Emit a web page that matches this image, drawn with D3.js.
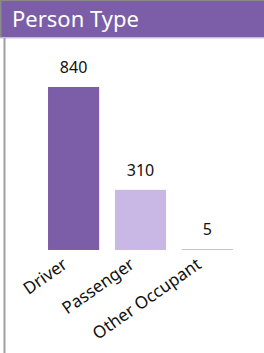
<!DOCTYPE html>
<html>
<head>
<meta charset="utf-8">
<script src="https://cdn.jsdelivr.net/npm/d3@7"></script>
<style>
html,body{margin:0;padding:0;background:#fff;}
svg{display:block;}
</style>
</head>
<body>
<script>
const title = "Person Type";
const categories = ["Driver", "Passenger", "Other Occupant"];
const values = [840, 310, 5];
const colors = ["#7b5ea7", "#c9b8e6", "#c4c4c4"];

const W = 264, H = 353;
const svg = d3.select("body").append("svg").attr("width", W).attr("height", H);

// frame
svg.append("rect").attr("x", 0).attr("y", 0).attr("width", W).attr("height", 1).attr("fill", "#8a8a8a");
svg.append("rect").attr("x", 0).attr("y", 1).attr("width", W).attr("height", 36.5).attr("fill", "#7b5ea7");
svg.append("rect").attr("x", 0).attr("y", 1).attr("width", 1.5).attr("height", 36.5).attr("fill", "#8a8a8a");
svg.append("rect").attr("x", 0).attr("y", 37.5).attr("width", W).attr("height", 1).attr("fill", "#cfc3e3");
svg.append("rect").attr("x", 3.5).attr("y", 38).attr("width", 2).attr("height", H - 38).attr("fill", "#a0a0a0");

svg.append("text").attr("x", 12).attr("y", 27)
  .attr("font-family", "Noto Sans").attr("font-size", 22).attr("fill", "#fff")
  .text(title);

const x = d3.scaleBand().domain(categories).range([40, 241]).paddingInner(0.236).paddingOuter(0.12);
const y = d3.scaleLinear().domain([0, 840]).range([250, 87]);

const g = svg.append("g");
g.selectAll("rect.bar").data(values).join("rect").attr("class", "bar")
  .attr("x", (d, i) => x(categories[i]))
  .attr("width", x.bandwidth())
  .attr("y", d => y(d))
  .attr("height", d => Math.max(1, y(0) - y(d)))
  .attr("fill", (d, i) => colors[i]);

g.selectAll("text.val").data(values).join("text").attr("class", "val")
  .attr("x", (d, i) => x(categories[i]) + x.bandwidth() / 2)
  .attr("y", d => y(d) - 14)
  .attr("text-anchor", "middle")
  .attr("font-family", "Noto Sans").attr("font-size", 16).attr("fill", "#111")
  .text(d => d);

const axis = d3.axisBottom(x).tickSize(0).tickPadding(0);
const ag = svg.append("g").attr("transform", `translate(0,${y(0)})`).call(axis);
ag.select(".domain").remove();
ag.selectAll(".tick text")
  .attr("font-family", "Noto Sans").attr("font-size", 17).attr("fill", "#111")
  .attr("text-anchor", "end")
  .attr("dy", null).attr("y", 0)
  .attr("transform", "translate(-5,17) rotate(-35)");
</script>
</body>
</html>
